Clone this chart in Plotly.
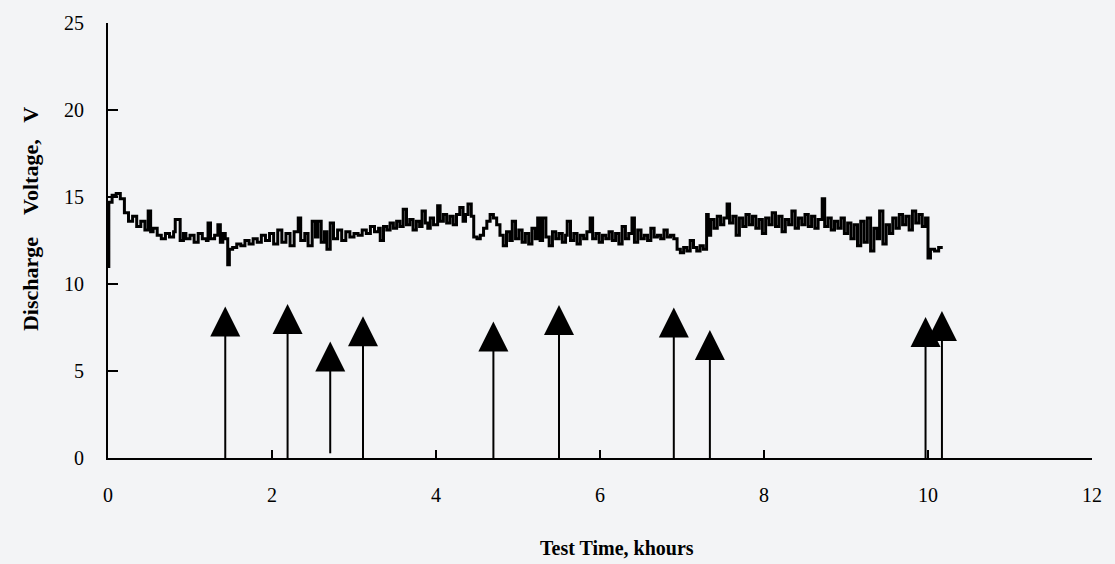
import plotly.graph_objects as go

# Discharge voltage trace (khours, V)
time_kh = [0.00, 0.01, 0.05, 0.10, 0.15, 0.20, 0.25, 0.30, 0.35, 0.40, 0.45, 0.49, 0.52, 0.55, 0.60,
           0.65, 0.70, 0.75, 0.80, 0.82, 0.88, 0.92, 0.95, 1.00, 1.05, 1.10, 1.15, 1.20, 1.22, 1.25,
           1.30, 1.34, 1.37, 1.40, 1.43, 1.46, 1.48, 1.52, 1.57, 1.62, 1.67, 1.72, 1.77, 1.82, 1.87,
           1.92, 1.97, 2.02, 2.07, 2.12, 2.17, 2.22, 2.27, 2.32, 2.35, 2.40, 2.44, 2.49, 2.53, 2.56,
           2.60, 2.64, 2.67, 2.71, 2.75, 2.80, 2.85, 2.90, 2.95, 3.00, 3.05, 3.10, 3.15, 3.20, 3.25,
           3.30, 3.32, 3.36, 3.40, 3.44, 3.48, 3.52, 3.56, 3.60, 3.64, 3.68, 3.72, 3.76, 3.80, 3.83,
           3.87, 3.90, 3.93, 3.97, 4.02, 4.05, 4.09, 4.13, 4.17, 4.21, 4.25, 4.29, 4.33, 4.36, 4.39,
           4.43, 4.46, 4.50, 4.54, 4.58, 4.62, 4.66, 4.70, 4.74, 4.78, 4.82, 4.86, 4.90, 4.93, 4.97,
           5.01, 5.05, 5.09, 5.13, 5.17, 5.21, 5.24, 5.27, 5.30, 5.34, 5.38, 5.42, 5.46, 5.50, 5.54,
           5.58, 5.60, 5.64, 5.68, 5.72, 5.76, 5.80, 5.84, 5.88, 5.91, 5.95, 5.99, 6.03, 6.07, 6.11,
           6.15, 6.19, 6.23, 6.27, 6.31, 6.35, 6.39, 6.42, 6.46, 6.50, 6.54, 6.58, 6.62, 6.66, 6.70,
           6.74, 6.78, 6.82, 6.86, 6.90, 6.94, 6.98, 7.02, 7.06, 7.10, 7.14, 7.18, 7.22, 7.26, 7.30,
           7.32, 7.35, 7.39, 7.43, 7.47, 7.51, 7.55, 7.58, 7.62, 7.66, 7.70, 7.74, 7.78, 7.82, 7.86,
           7.90, 7.94, 7.98, 8.02, 8.06, 8.10, 8.14, 8.18, 8.22, 8.26, 8.30, 8.34, 8.38, 8.42, 8.46,
           8.50, 8.54, 8.58, 8.62, 8.66, 8.71, 8.74, 8.78, 8.82, 8.86, 8.90, 8.94, 8.98, 9.02, 9.06,
           9.10, 9.14, 9.18, 9.22, 9.26, 9.30, 9.34, 9.38, 9.41, 9.45, 9.49, 9.53, 9.57, 9.61, 9.65,
           9.69, 9.73, 9.77, 9.81, 9.85, 9.89, 9.93, 9.97, 10.00, 10.03, 10.08, 10.13, 10.18]

voltage = [11.0, 14.7, 15.1, 15.2, 14.9, 14.1, 13.6, 13.9, 13.3, 13.6, 13.1, 14.2, 13.0, 13.2, 12.8,
           12.6, 12.9, 12.7, 13.0, 13.7, 12.5, 12.9, 12.6, 12.8, 12.4, 12.9, 12.6, 12.5, 13.5, 12.6,
           12.8, 13.4, 12.4, 12.9, 12.6, 11.1, 12.0, 12.1, 12.3, 12.2, 12.5, 12.3, 12.6, 12.4, 12.8,
           12.5, 12.9, 12.3, 13.1, 12.4, 12.9, 12.2, 13.0, 13.8, 12.5, 12.9, 12.2, 13.6, 12.7, 13.6,
           12.4, 13.0, 12.0, 13.5, 12.6, 13.1, 12.5, 13.0, 12.7, 12.9, 12.8, 13.1, 12.9, 13.3, 13.0,
           13.2, 12.5, 13.3, 13.1, 13.5, 13.2, 13.6, 13.3, 14.3, 13.4, 13.7, 13.1, 13.6, 13.3, 14.2,
           13.5, 13.2, 13.8, 13.4, 14.5, 13.6, 14.0, 13.5, 13.9, 13.4, 14.0, 14.4, 13.6, 14.0, 14.6,
           13.9, 12.7, 12.6, 12.8, 13.2, 13.6, 14.0, 13.8, 13.4, 12.8, 12.2, 13.0, 12.5, 13.6, 12.6,
           13.1, 12.4, 12.9, 12.3, 13.2, 12.6, 13.8, 12.5, 13.8, 12.7, 12.2, 13.0, 12.6, 12.9, 12.4,
           12.8, 13.6, 12.5, 12.9, 12.3, 12.8, 12.6, 13.0, 13.8, 12.6, 12.9, 12.4, 12.8, 12.6, 13.0,
           12.5, 12.9, 12.3, 13.3, 12.6, 12.9, 13.8, 12.4, 13.1, 12.6, 12.8, 12.5, 13.2, 12.7, 12.8,
           12.6, 13.1, 12.7, 12.8, 12.6, 12.0, 11.8, 12.1, 11.9, 12.5, 12.1, 11.9, 12.2, 12.0, 14.0,
           12.8, 13.7, 13.2, 13.9, 13.4, 13.8, 14.6, 13.5, 13.9, 12.8, 13.8, 13.3, 14.0, 13.4, 13.9,
           13.2, 13.7, 12.9, 13.8, 13.4, 14.1, 13.3, 13.9, 13.0, 13.7, 13.4, 14.2, 13.2, 13.8, 13.4,
           14.0, 13.3, 13.9, 13.2, 13.7, 14.9, 13.3, 13.8, 13.1, 13.6, 13.2, 13.8, 12.9, 13.5, 12.6,
           13.4, 12.2, 13.6, 12.4, 13.8, 11.9, 13.2, 12.6, 14.2, 12.3, 13.4, 12.9, 13.8, 13.2, 14.0,
           13.4, 13.9, 13.1, 14.2, 13.5, 14.0, 13.3, 13.8, 11.5, 12.0, 11.9, 12.1, 12.1]

# Event arrows (khours, V)
arrow_x = [1.43, 2.19, 2.71, 3.11, 4.70, 5.50, 6.90, 7.34, 9.97, 10.17]
arrow_top = [8.7, 8.85, 6.7, 8.15, 7.85, 8.8, 8.65, 7.35, 8.1, 8.45]
arrow_bottom = [0, 0, 0.27, 0, 0, 0, 0, 0, 0, 0]

x_ticks = [0, 2, 4, 6, 8, 10, 12]
y_ticks = [0, 5, 10, 15, 20, 25]

fig = go.Figure()

fig.add_trace(go.Scatter(
    x=time_kh, y=voltage, mode="lines", line=dict(color="black", width=3, shape="hv"),
    hoverinfo="skip", showlegend=False))

stem_x, stem_y = [], []
for xv, b, t in zip(arrow_x, arrow_bottom, arrow_top):
    stem_x += [xv, xv, None]
    stem_y += [b, t - 1.0, None]
fig.add_trace(go.Scatter(x=stem_x, y=stem_y, mode="lines",
                         line=dict(color="black", width=2), showlegend=False, hoverinfo="skip"))
fig.add_trace(go.Scatter(x=arrow_x, y=arrow_top, mode="markers",
                         marker=dict(symbol="arrow-up", size=30, color="black",
                                     line=dict(width=0)),
                         showlegend=False, hoverinfo="skip"))

font_family = "Liberation Serif"
nb = "\u00a0"
fig.update_layout(
    width=1115, height=564,
    margin=dict(l=108, r=23, t=20, b=106),
    paper_bgcolor="#f3f4f6", plot_bgcolor="#f3f4f6",
    font=dict(family=font_family, size=20, color="black"),
    xaxis=dict(range=[0, 12], tickvals=x_ticks, ticktext=[str(v) for v in x_ticks],
               showgrid=False, zeroline=False, showline=True, linecolor="black", linewidth=2,
               ticks="inside", ticklen=8, tickwidth=2, tickcolor="black",
               ticklabelstandoff=18, tickfont=dict(size=20)),
    yaxis=dict(range=[0, 25], tickvals=y_ticks, ticktext=[str(v) for v in y_ticks],
               showgrid=False, zeroline=False, showline=True, linecolor="black", linewidth=2,
               ticks="inside", ticklen=10, tickwidth=2, tickcolor="black",
               ticklabelstandoff=18, tickfont=dict(size=20)),
    annotations=[
        dict(text="<b>Test Time, khours</b>", xref="paper", yref="paper",
             x=0.517, y=-0.206, xanchor="center", yanchor="middle", showarrow=False,
             font=dict(size=20, family=font_family)),
        dict(text="<b>Discharge" + nb * 4 + "Voltage," + nb * 3 + "V</b>", xref="paper", yref="paper",
             x=-0.079, y=0.55, xanchor="center", yanchor="middle", showarrow=False,
             textangle=-90, font=dict(size=22, family=font_family)),
    ],
)

fig.write_html("out.html", config={"displayModeBar": False},
               post_script="document.body.style.margin='0';document.body.style.overflow='hidden';")
